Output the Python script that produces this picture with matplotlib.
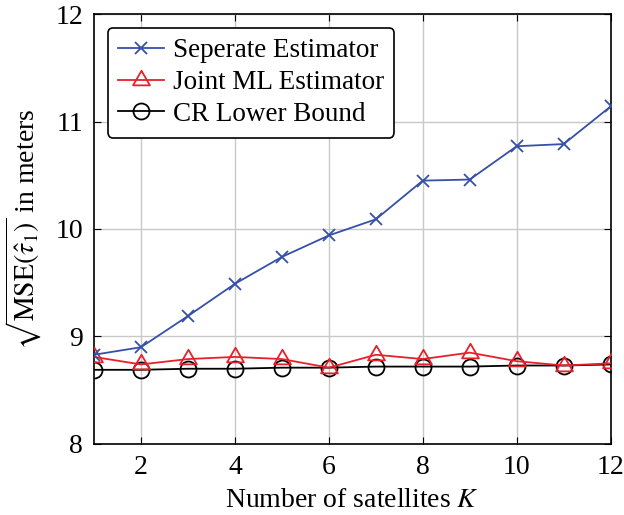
import matplotlib
matplotlib.use("Agg")
import numpy as np
from matplotlib import pyplot as plt
from matplotlib.path import Path

# satellites K
K = [1, 2, 3, 4, 5, 6, 7, 8, 9, 10, 11, 12]
# sqrt(MSE) in meters
seperate = [8.83, 8.90, 9.19, 9.49, 9.74, 9.94, 10.09, 10.45, 10.46, 10.77, 10.79, 11.14]
joint_ml = [8.81, 8.74, 8.79, 8.81, 8.79, 8.71, 8.83, 8.79, 8.85, 8.77, 8.73, 8.75]
cr_bound = [8.69, 8.69, 8.70, 8.70, 8.71, 8.71, 8.72, 8.72, 8.72, 8.73, 8.73, 8.74]

xticks = [2, 4, 6, 8, 10, 12]
yticks = [8, 9, 10, 11, 12]

plt.rcParams['font.family'] = ['Liberation Serif', 'DejaVu Serif']
plt.rcParams['mathtext.fontset'] = 'stix'

# triangle centred on its circumcentre, like pgfplots' triangle mark
tri = Path([(0, 1), (-0.866, -0.5), (0.866, -0.5), (0, 1)],
           [Path.MOVETO, Path.LINETO, Path.LINETO, Path.CLOSEPOLY])

fig = plt.figure(figsize=(6.24, 5.15), dpi=100)
ax = fig.add_axes([0.1506, 0.1379, 0.8280, 0.8349])

ax.plot(K, seperate, color='#3550a6', lw=1.3, marker='x', ms=8.5, mew=1.3,
        label='Seperate Estimator', zorder=5)
ax.plot(K, joint_ml, color='#e8202a', lw=1.3, marker=tri, ms=14, mew=1.3,
        mfc='none', label='Joint ML Estimator', zorder=4)
ax.plot(K, cr_bound, color='black', lw=1.3, marker='o', ms=11.5, mew=1.3,
        mfc='none', label='CR Lower Bound', zorder=3)

ax.set_xlim(1, 12)
ax.set_ylim(8, 12)
ax.set_xticks(xticks)
ax.set_yticks(yticks)
ax.grid(True, color='#c8c8c8', lw=1.0)
ax.set_axisbelow(True)
ax.tick_params(direction='in', length=5, top=True, right=True, labelsize=20, pad=8)
for s in ax.spines.values():
    s.set_linewidth(1.2)

ax.set_xlabel('Number of satellites $K$', fontsize=20, labelpad=6)
ax.set_ylabel(r'$\sqrt{\mathrm{MSE}(\hat{\tau}_1)}$ in meters', fontsize=20, labelpad=8)

leg = ax.legend(loc='upper left', fontsize=19.5, frameon=True, fancybox=True,
                edgecolor='black', framealpha=1, handlelength=1.7,
                handletextpad=0.3, labelspacing=0.25, borderpad=0.4,
                borderaxespad=0.5)
leg.get_frame().set_linewidth(1.2)

fig.savefig('out.png', dpi=100)
